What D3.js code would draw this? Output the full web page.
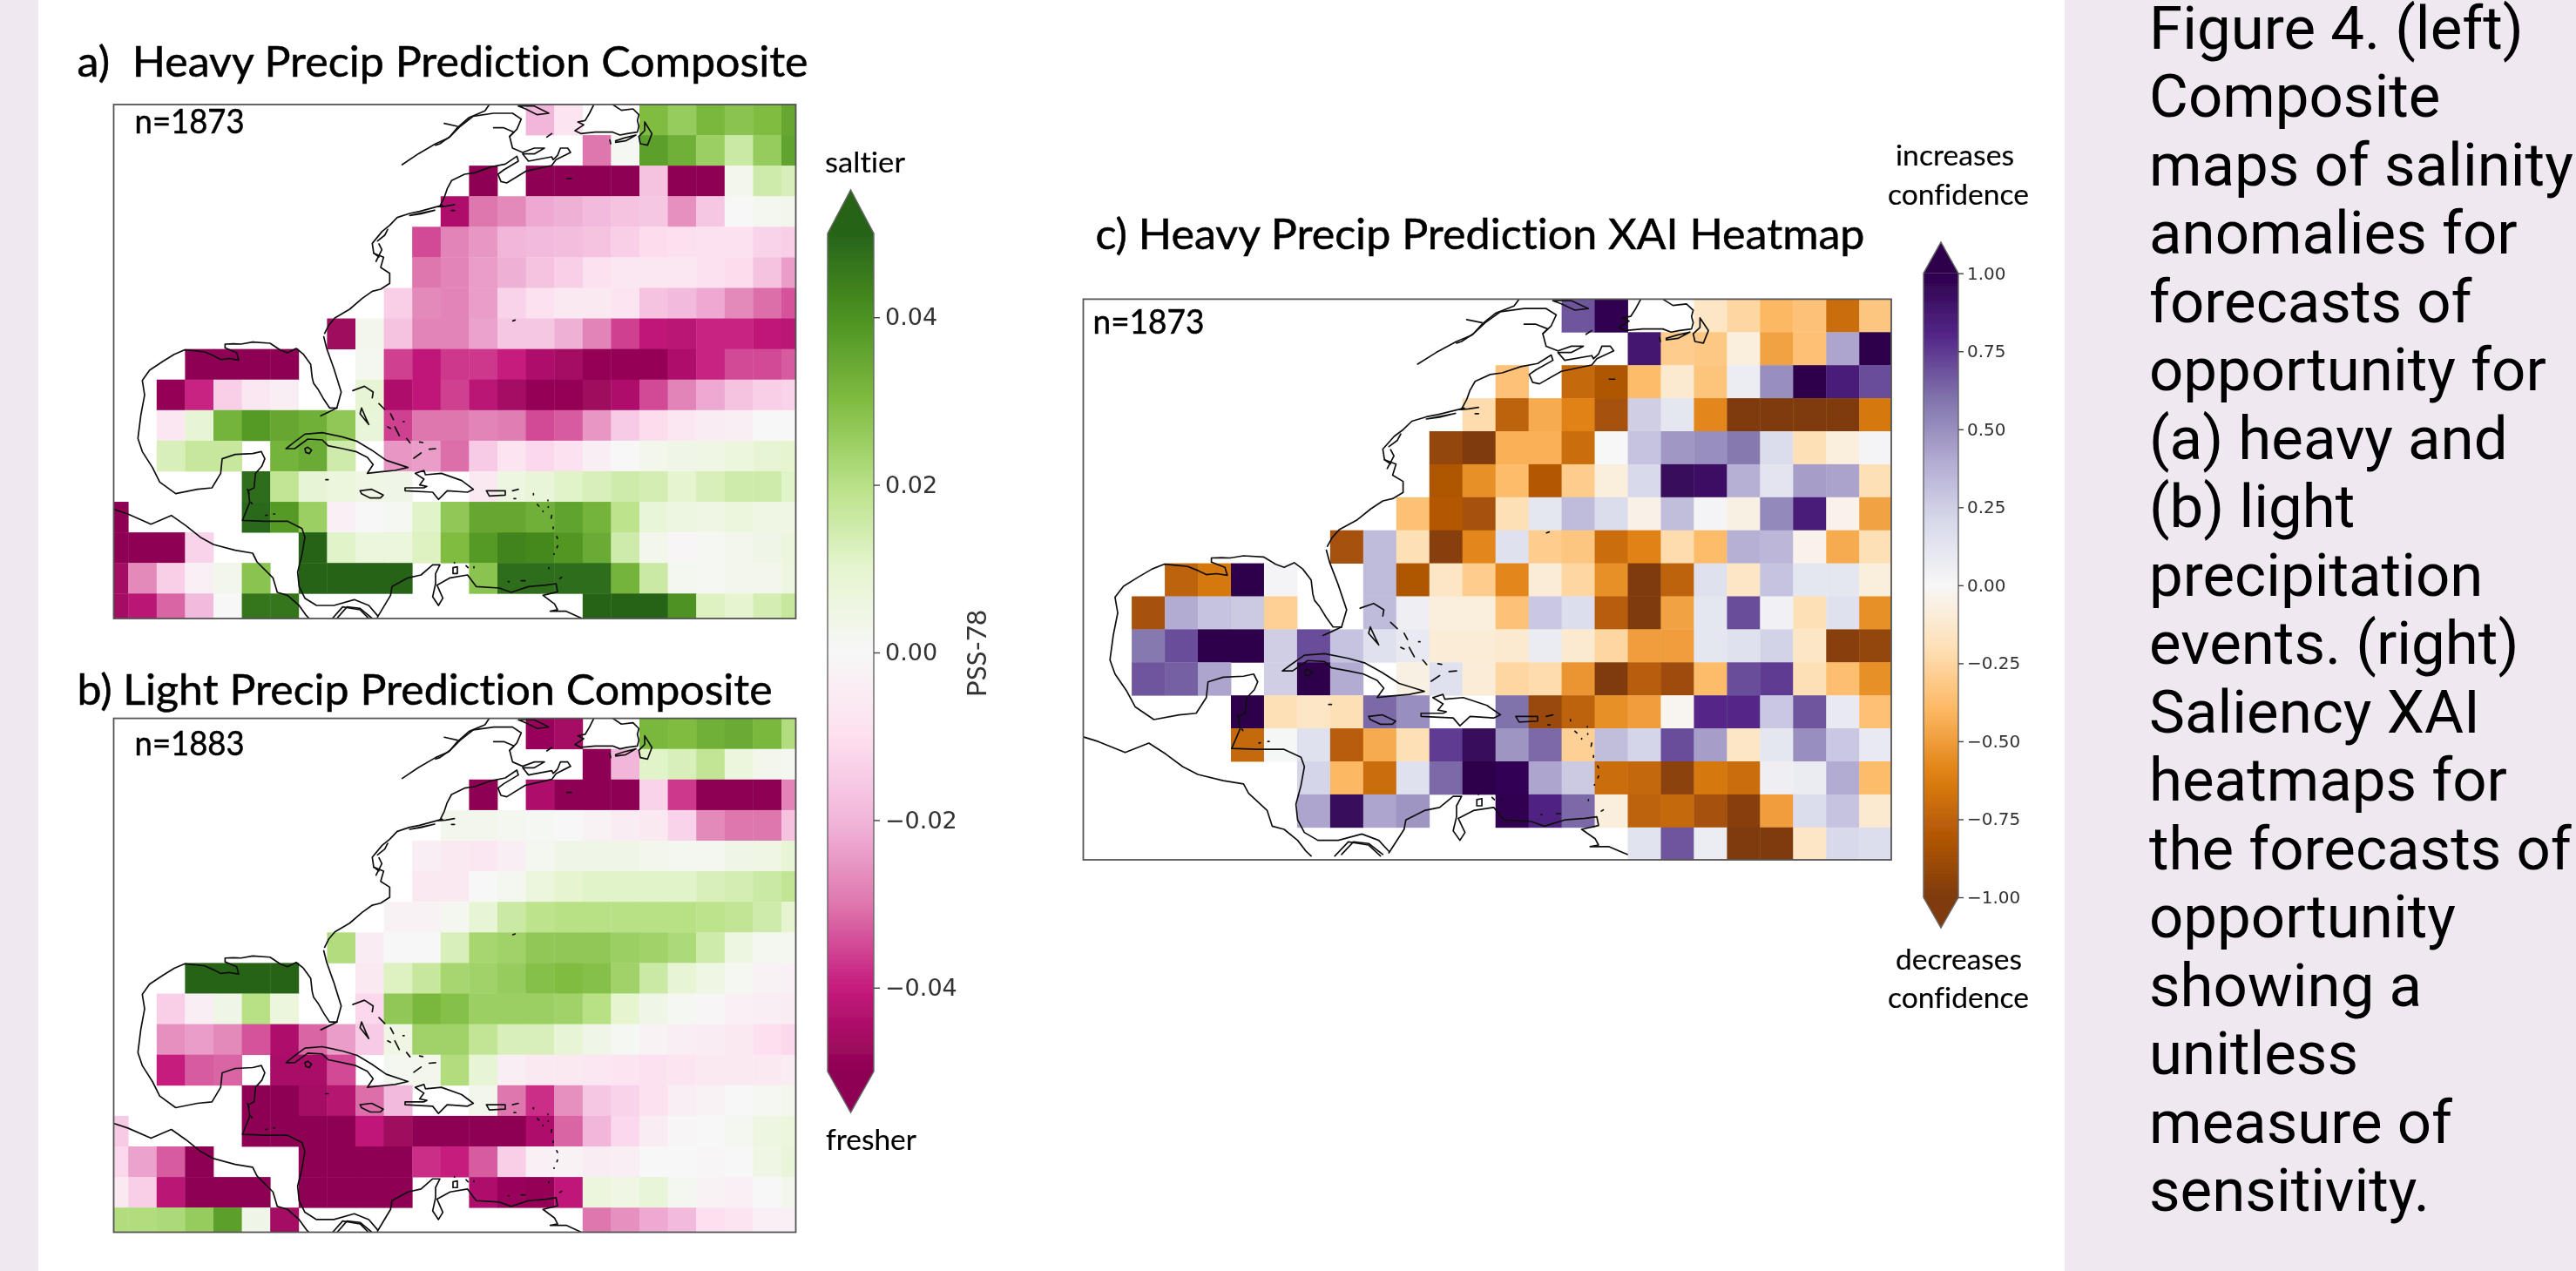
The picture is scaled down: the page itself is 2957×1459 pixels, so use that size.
<!DOCTYPE html>
<html><head><meta charset="utf-8">
<script src="https://cdn.jsdelivr.net/npm/d3@7"></script>
<style>html,body{margin:0;padding:0;background:#efe8f1}svg{display:block}text{white-space:pre;font-variant-ligatures:none}</style>
</head><body><svg id="fig" width="2957" height="1459"></svg>
<script>
const _ = null;
const gap = n => Array(n).fill(null);
// Salinity anomaly composites, values in 0.001 PSS-78; rows top to bottom, 25 columns
const salinityHeavy = [
[...gap(15),-20,-8,_,_,30,26,31,28,30,35],
[...gap(17),-30,1,37,33,25,16,26,36],
[...gap(13),-50,_,-50,-50,-50,-50,-17,-50,-50,3,15,13],
[...gap(12),-44,-30,-27,-22,-21,-19,-17,-16,-26,-16,0,2,3],
[...gap(11),-35,-28,-25,-20,-19,-18,-17,-14,-11,-10,-9,-9,-13,-14],
[...gap(11),-30,-28,-24,-21,-17,-14,-9,-7,-7,-7,-9,-11,-17,-24],
[...gap(10),-14,-27,-28,-24,-13,-9,-6,-6,-8,-17,-19,-22,-27,-31,-34],
[...gap(8),-47,3,-17,-28,-28,-23,-16,-16,-21,-28,-36,-41,-42,-39,-39,-41,-42],
[_,_,_,-50,-50,-50,-50,_,_,2,-36,-41,-37,-37,-40,-44,-46,-49,-49,-49,-44,-39,-35,-35,-33],
[_,_,-49,-39,-14,-7,-4,_,_,9,-44,-41,-36,-42,-46,-49,-49,-47,-44,-35,-28,-22,-17,-14,-13],
[_,_,-7,9,32,38,35,33,27,8,-36,-30,-30,-28,-29,-35,-33,-25,-15,-11,-7,-5,-4,0,0],
[_,_,13,17,17,_,32,34,15,_,-25,-24,-31,-15,-8,-12,-9,-4,0,3,4,5,7,9,10],
[_,_,_,_,_,48,18,9,7,5,4,_,_,-6,6,8,11,13,15,14,10,13,15,15,11],
[-50,_,_,_,_,49,38,25,-3,0,1,11,27,35,35,33,36,32,19,8,6,5,7,5,5],
[-50,-50,-50,-13,_,_,_,50,11,7,7,12,30,38,43,42,39,34,15,3,-1,1,3,4,7],
[-46,-27,-14,-3,3,28,_,50,50,50,50,_,_,28,48,48,48,48,32,16,2,1,3,3,6],
[-46,-42,-32,-19,0,46,46,_,_,_,_,_,_,_,_,_,_,50,50,50,40,12,10,14,17]
];
const salinityLight = [
[...gap(15),-48,-46,_,_,31,30,33,34,31,21],
[...gap(17),-50,-20,11,13,18,7,3,2],
[...gap(13),-50,_,-44,-50,-50,-50,-13,-37,-50,-50,-50,-28],
[...gap(12),3,3,2,1,0,-2,-5,-6,-13,-27,-30,-30,-17],
[...gap(11),-4,-6,-7,-4,2,4,4,4,3,2,2,4,5,9],
[...gap(11),-6,-6,0,2,7,10,11,11,11,11,13,14,16,18],
[...gap(10),-2,-2,2,9,16,19,20,20,20,20,20,19,18,15,10],
[...gap(8),21,-5,0,0,13,23,24,27,27,27,25,24,22,15,6,2,2],
[_,_,_,50,50,50,50,_,_,-6,12,17,23,24,26,29,30,29,24,16,9,5,1,-2,-3],
[_,_,-14,-4,4,20,7,_,_,-12,27,31,29,25,25,25,24,20,10,4,1,-1,-3,-4,-5],
[_,_,-26,-24,-27,-34,-44,-32,-24,-15,5,24,24,18,13,13,9,4,1,-2,-4,-5,-6,-10,-12],
[_,_,-40,-33,-32,_,-45,-45,-35,_,2,3,21,9,-4,-6,-6,-7,-8,-9,-8,-6,-6,-6,-5],
[_,_,_,_,_,-50,-50,-46,-43,-31,-19,_,_,3,-30,-38,-26,-16,-13,-9,-4,-2,0,1,3],
[-15,_,_,_,_,-50,-50,-50,-50,-41,-47,-50,-50,-50,-50,-44,-32,-20,-12,-5,-1,0,2,6,7],
[-12,-23,-33,-50,_,_,_,-50,-50,-50,-50,-38,-40,-33,-14,-3,-2,-5,-4,0,0,-1,0,5,8],
[-6,-14,-42,-50,-50,-50,_,-50,-50,-50,-50,_,_,-44,-48,-49,-41,7,5,8,2,-2,-3,0,3],
[21,21,22,26,37,4,-46,_,_,_,_,_,_,_,_,_,_,-30,-26,-22,-19,-10,-8,-3,-3]
];
// Saliency heatmap, values in 0.01 units
const saliencyHeavy = [
[...gap(15),68,98,_,_,-15,-25,-40,-35,-70,-33],
[...gap(17),88,-30,-32,-8,-48,-36,42,100],
[...gap(13),-35,_,-72,-82,-38,-12,-34,7,50,100,85,70],
[...gap(12),-22,-75,-45,-60,-85,25,12,-58,-100,-100,-100,-100,-65],
[...gap(11),-92,-100,-43,-43,-70,0,30,47,50,58,18,-20,-8,2],
[...gap(11),-82,-55,-38,-80,-30,-8,20,95,92,38,13,45,43,-20],
[...gap(10),-36,-80,-85,-20,12,33,18,-5,32,2,-6,52,85,-4,-48],
[...gap(8),-85,33,-20,-97,-58,15,-30,-33,-70,-60,-22,-38,38,35,-4,-45,-20],
[_,_,_,-75,-65,100,2,_,_,33,-82,-15,-30,-58,-10,-25,-55,-100,-75,15,-15,30,12,12,-8],
[_,_,-85,40,30,27,-28,_,_,33,6,-8,-8,-35,28,17,-78,-100,-48,12,70,4,-20,15,-55],
[_,_,58,70,100,100,25,70,30,15,10,-10,-10,-12,8,-12,-25,-50,-50,12,15,23,-15,-97,-92],
[_,_,68,65,42,_,25,100,40,_,-6,15,-10,-25,-22,-53,-100,-78,-88,-38,70,75,-20,-37,-55],
[_,_,_,_,_,100,-20,-15,-20,62,50,_,_,60,-90,-75,-55,-50,-2,80,80,28,68,10,-36],
[_,_,_,_,_,-72,1,15,-78,-45,-20,75,95,48,62,-28,32,22,70,45,-15,12,50,28,10],
[_,_,_,_,_,_,_,22,-40,-70,15,62,100,97,42,27,-70,-73,-95,-65,-70,6,8,40,-38],
[_,_,_,_,_,_,_,42,95,42,48,_,_,98,82,62,-8,-75,-72,-85,-97,-50,18,30,-12],
[...gap(17),14,68,7,-100,-100,-15,20,17]
];
const salinityTicks = [0.04,0.02,0,-0.02,-0.04];
const saliencyTicks = [1,0.75,0.5,0.25,0,-0.25,-0.5,-0.75,-1];
const captionLines = ["Figure 4. (left)","Composite","maps of salinity","anomalies for","forecasts of","opportunity for","(a) heavy and","(b) light","precipitation","events. (right)","Saliency XAI","heatmaps for","the forecasts of","opportunity","showing a","unitless","measure of","sensitivity."];
// Coastlines in map units, by traced region
const coastGulf = [
[[770,235],[745,235],[725,205],[705,170],[690,150],[685,130],[680,85],[655,50],[630,30],[600,45],[575,35],[540,12],[480,8],[440,15],[415,14],[385,15],[385,28],[425,45],[432,70],[400,65],[370,68],[345,55],[315,42],[280,38],[245,35],[210,50],[170,75],[125,105],[100,140],[108,190],[95,260],[85,340],[100,385],[135,440],[160,490],[215,530],[290,515],[340,510],[370,460],[375,410],[420,395],[480,392],[510,385],[522,410],[512,435],[490,460],[485,510],[465,520],[470,560],[445,622],[520,625],[600,625],[650,650],[660,680],[650,740],[635,800],[640,850],[660,890],[700,915],[760,915],[830,895],[880,915],[910,950]],
[[770,235],[740,250],[715,262]],
[[770,235],[785,180],[760,100],[735,30],[725,-10]],
[[-10,580],[50,600],[130,635],[200,605],[250,640],[300,680],[345,705],[420,725],[480,735],[495,765],[550,820],[565,870],[600,880],[640,915],[665,950],[680,965]],
[[750,965],[790,920],[850,930],[885,965]],
[[525,605],[530,604]],[[552,600],[556,600]],[[462,515],[468,530]],[[475,560],[478,565]]
];
const coastCarib = [
[[280,925],[325,850],[330,820],[385,790],[430,780],[470,745],[495,745],[480,775],[480,810],[470,855],[490,885],[505,860],[485,815],[530,790],[590,780],[620,820],[700,825],[740,840],[800,820],[860,815],[895,810],[900,838],[850,850],[890,880],[900,900],[875,905],[930,905],[985,930]],
[[140,930],[175,890],[220,895],[262,930]],
[[-35,345],[-10,325],[30,295],[90,290],[160,305],[210,320],[260,350],[310,385],[385,410],[340,420],[290,425],[245,430],[265,400],[245,375],[205,355],[160,345],[110,335],[90,315],[40,312],[-5,345],[-35,345]],
[[30,345],[40,340],[53,350],[45,362],[33,358],[30,345]],
[[220,490],[260,485],[300,505],[290,515],[255,515],[225,500],[220,490]],
[[410,430],[440,420],[445,435],[500,430],[570,455],[610,485],[590,495],[520,490],[490,520],[470,495],[375,490],[375,480],[440,480],[450,475],[425,470],[440,450],[410,430]],
[[655,490],[720,490],[720,505],[665,508],[655,490]],
[[195,145],[235,130],[265,150],[262,170]],
[[225,205],[240,240],[250,262],[220,225],[225,205]],
[[285,190],[305,210]],[[325,225],[335,245]],[[368,252],[372,252]],[[315,270],[325,275]],[[340,270],[355,300]],[[380,310],[392,325]],[[425,322],[436,324]],[[405,378],[430,360]],[[458,347],[480,345]],[[102,452],[110,452]],
[[745,490],[765,485]],[[750,517],[756,517]],[[817,500],[817,504]],[[830,537],[836,543]],[[867,522],[867,524]],[[868,545],[868,547]],[[850,560],[850,562]],[[880,575],[878,585]],[[885,615],[885,620]],[[897,648],[900,654]],[[900,680],[898,686]],[[888,707],[888,709]],[[870,755],[870,758]],[[908,792],[914,788]],[[730,803],[733,803]],[[775,800],[788,800]],[[545,737],[545,739]],[[585,748],[592,755]],[[612,752],[612,755]],[[540,755],[555,752],[555,775],[540,775],[540,755]]
];
const coastNE = [
[[-115,207],[-60,170],[0,135],[45,115],[85,75],[130,40],[200,30],[265,30],[295,50],[280,85],[255,110],[265,150],[300,165],[340,150],[375,150],[340,170],[300,170],[320,195],[400,180],[405,190],[420,175],[430,150],[455,150],[465,165],[415,190],[400,210],[310,230],[245,270],[225,265],[215,240],[235,225],[285,195],[280,178],[240,205],[190,215],[135,235],[100,240],[55,262],[40,290],[30,320],[15,350],[10,352]],
[[185,0],[170,22],[115,45],[75,80],[50,110],[15,135],[0,140]],
[[30,65],[75,75]],[[200,80],[235,80],[270,95],[255,110]],
[[285,5],[340,5],[390,30],[350,35],[310,15],[285,5]],
[[545,0],[530,30],[515,55],[490,60],[510,70],[480,90],[500,100],[550,95],[610,95],[635,105],[660,100],[695,95],[700,75],[695,55],[700,35],[680,15],[640,20],[610,0]],
[[720,60],[745,100],[730,140],[705,135],[700,110],[720,90],[720,60]],
[[620,125],[650,115],[690,105],[655,125],[620,130]],
[[383,112],[400,100]],[[600,122],[603,135]],[[452,255],[468,255]],[[266,745],[274,742]],[[15,352],[35,350],[65,345]],[[55,365],[65,365]]
];
const coastMid = [
[[728,788],[742,760],[763,735],[814,705],[857,668],[892,643],[921,636],[952,616],[952,581],[921,561],[931,526],[897,512],[892,478],[926,437],[952,416],[978,389],[1021,375],[1055,368],[1133,347]],
[[1021,382],[1107,364],[1060,376],[1021,382]],
[[905,540],[925,500],[915,480]],[[910,470],[935,450],[945,430]],[[897,512],[915,525]]
];
const coastRegions = [[coastGulf,0,810],[coastCarib,630,840],[coastNE,1110,0],[coastMid,0,0]];

const svg = d3.select("#fig");
const W=2957,H=1459;
const bandColor="#efe8f1";
svg.append("rect").attr("width",W).attr("height",H).attr("fill",bandColor);
svg.append("rect").attr("x",44).attr("width",2326).attr("height",H).attr("fill","#fff");
const defs=svg.append("defs");
const blur=defs.append("filter").attr("id","soft").attr("x","-2%").attr("y","-2%").attr("width","104%").attr("height","104%");
blur.append("feGaussianBlur").attr("stdDeviation",0.6);

const stops=k=>d3.range(11).map(i=>-k+i*k/5);
const piyg=d3.scaleLinear().domain(stops(50)).range(d3.schemePiYG[11]).clamp(true);
const puor=d3.scaleLinear().domain(stops(100)).range(d3.schemePuOr[11].slice().reverse()).clamp(true);
const mapCol=d3.scaleLinear().domain([51.6,149.4]).range([1,2]);
const mapRow=d3.scaleLinear().domain([0,105.24]).range([0,1]);
const fig=svg.append("g").attr("filter","url(#soft)");

function panel(id,data,color,g){
  const x=d3.scaleLinear().domain([0,25]).range([g.x0,g.x0+25*g.w]);
  const y=d3.scaleLinear().domain([0,17]).range([g.y0,g.y0+17*g.h]);
  defs.append("clipPath").attr("id",id).append("rect").attr("x",g.l).attr("y",g.t).attr("width",g.r-g.l).attr("height",g.b-g.t);
  const p=fig.append("g");
  const c=p.append("g").attr("clip-path",`url(#${id})`);
  const cells=data.flatMap((row,r)=>row.map((v,k)=>({v,r,k}))).filter(d=>d.v!==null);
  c.selectAll("rect").data(cells).join("rect")
    .attr("x",d=>x(d.k)).attr("y",d=>y(d.r)).attr("width",g.w+0.4).attr("height",g.h+0.4)
    .attr("fill",d=>color(d.v));
  const line=d3.line().x(d=>x(mapCol(d[0]))).y(d=>y(mapRow(d[1])));
  coastRegions.forEach(([lines,dx,dy])=>{
    c.append("g").selectAll("path").data(lines).join("path")
      .attr("d",l=>line(l.map(q=>[q[0]+dx,q[1]+dy])))
      .attr("fill","none").attr("stroke","#111").attr("stroke-width",1.7)
      .attr("stroke-linecap","round").attr("stroke-linejoin","round");
  });
  p.append("rect").attr("x",g.l).attr("y",g.t).attr("width",g.r-g.l).attr("height",g.b-g.t)
    .attr("fill","none").attr("stroke","#555").attr("stroke-width",1.8);
}
panel("pa",salinityHeavy,piyg,{x0:114.6,w:32.6,y0:120,h:35.08,l:130.5,r:913.5,t:120,b:710});
panel("pb",salinityLight,piyg,{x0:114.6,w:32.6,y0:824.6,h:35.1,l:130.5,r:913.5,t:824.6,b:1414.5});
panel("pc",saliencyHeavy,puor,{x0:1223.2,w:37.96,y0:343.4,h:37.9,l:1243.5,r:2171,t:343.4,b:987});

function colorbar(o){
  const y=d3.scaleLinear().domain([o.lo,o.hi]).range([o.yLo,o.yHi]);
  const g=fig.append("g");
  const n=d3.range(o.yHi,o.yLo,2);
  g.selectAll(".s").data(n).join("rect").attr("x",o.x0).attr("width",o.x1-o.x0).attr("y",d=>d).attr("height",2.4)
    .attr("fill",d=>o.color(o.k*y.invert(d+1)));
  const mid=(o.x0+o.x1)/2;
  const tri=(yb,ya)=>`M${o.x0},${yb}L${mid},${ya}L${o.x1},${yb}Z`;
  g.append("path").attr("d",tri(o.yHi,o.apexHi)).attr("fill",o.color(o.k*o.hi));
  g.append("path").attr("d",tri(o.yLo,o.apexLo)).attr("fill",o.color(o.k*o.lo));
  g.append("path").attr("d",`M${o.x0},${o.yHi}L${mid},${o.apexHi}L${o.x1},${o.yHi}V${o.yLo}L${mid},${o.apexLo}L${o.x0},${o.yLo}Z`)
    .attr("fill","none").attr("stroke","#666").attr("stroke-width",1.4);
  const axis=d3.axisRight(y).tickValues(o.ticks).tickFormat(d3.format(".2f")).tickSize(o.tick).tickPadding(o.pad);
  const a=g.append("g").attr("transform",`translate(${o.x1},0)`).call(axis);
  a.select(".domain").remove();
  a.selectAll("line").attr("stroke","#444").attr("stroke-width",1.4);
  a.selectAll("text").attr("font-family","DejaVu Sans").attr("font-size",o.fs).attr("fill","#333");
}
colorbar({lo:-0.05,hi:0.05,k:1000,yLo:1230,yHi:268,apexHi:218,apexLo:1277,x0:950,x1:1003,color:piyg,ticks:salinityTicks,tick:7,pad:6,fs:27});
colorbar({lo:-1,hi:1,k:100,yLo:1030,yHi:313.7,apexHi:278,apexLo:1065,x0:2208,x1:2248,color:puor,ticks:saliencyTicks,tick:6,pad:4,fs:20});

const label=(t,x,y,len,fs,sw=0.5)=>fig.append("text").text(t).attr("x",x).attr("y",y)
  .attr("font-family","Lato").attr("font-size",fs).attr("fill","#000").attr("stroke","#000").attr("stroke-width",sw)
  .attr("textLength",len).attr("lengthAdjust","spacingAndGlyphs");
label("a)  Heavy Precip Prediction Composite",88.6,88,839,48);
label("b) Light Precip Prediction Composite",88.6,808.5,798,48);
label("c) Heavy Precip Prediction XAI Heatmap",1257.5,285.7,883,48);
label("n=1873",154.6,153,126,38);
label("n=1883",154.6,867,126,38);
label("n=1873",1254.5,383,128,38);
label("saltier",947,197.5,92,32,0.15);
label("fresher",948,1320,104,32,0.15);
label("increases",2176,190,136,32,0.15);
label("confidence",2167,235,162,32,0.15);
label("decreases",2176,1113,145,32,0.15);
label("confidence",2167,1157,162,32,0.15);
fig.append("text").text("PSS-78").attr("transform","translate(1132,750) rotate(-90)").attr("text-anchor","middle")
  .attr("font-family","Lato").attr("font-size",31).attr("fill","#333").attr("textLength",100).attr("lengthAdjust","spacingAndGlyphs");

svg.append("g").selectAll("text").data(captionLines).join("text")
  .text(d=>d).attr("x",2467).attr("y",(d,i)=>56+i*78.47)
  .attr("font-family","Roboto").attr("font-size",69).attr("fill","#000");
</script></body></html>
